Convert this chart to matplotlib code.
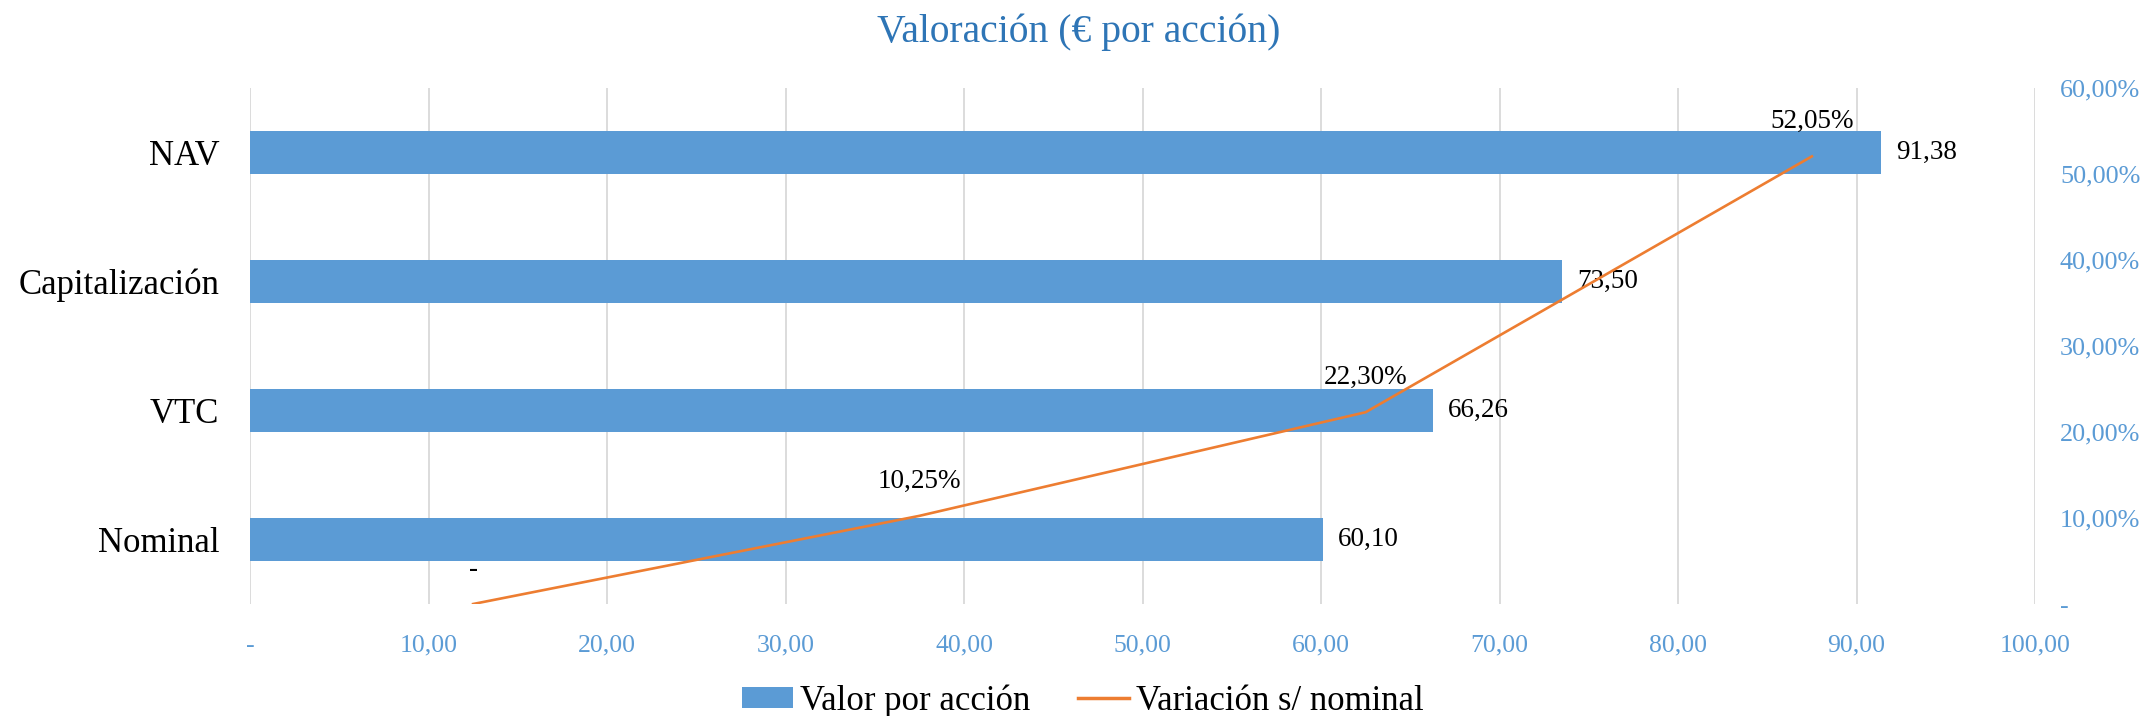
import matplotlib
matplotlib.use('Agg')
import matplotlib.pyplot as plt
from matplotlib.patches import Patch
from matplotlib.lines import Line2D

# data
categories = ['Nominal', 'VTC', 'Capitalización', 'NAV']
valor_accion = [60.10, 66.26, 73.50, 91.38]
variacion = [0.0, 0.1025, 0.2230, 0.5205]
x_ticks = [0, 10, 20, 30, 40, 50, 60, 70, 80, 90, 100]
y2_ticks = [0, 0.1, 0.2, 0.3, 0.4, 0.5, 0.6]

bar_color = '#5B9BD5'
line_color = '#ED7D31'
tick_color = '#5B9BD5'
title_color = '#2E75B6'
grid_color = '#D9D9D9'

plt.rcParams['font.family'] = ['Liberation Serif', 'DejaVu Serif']


def num_es(v, dec=2):
    if v == 0:
        return '-'
    s = '{:,.{d}f}'.format(v, d=dec)
    return s.replace(',', 'X').replace('.', ',').replace('X', '.')


def pct_es(v):
    if v == 0:
        return '-'
    return num_es(v * 100) + '%'


fig = plt.figure(figsize=(21.48, 7.16), dpi=100, facecolor='w')
pos = [250 / 2148, 1 - 604 / 716, (2035 - 250) / 2148, (604 - 88) / 716]
ax = fig.add_axes(pos)

ypos = range(len(categories))
bars = ax.barh(ypos, valor_accion, height=0.33, color=bar_color, zorder=3)
ax.set_xlim(0, 100)
ax.set_ylim(-0.5, len(categories) - 0.5)
ax.set_yticks(list(ypos))
ax.set_yticklabels(categories, fontsize=25, color='black')
ax.set_xticks(x_ticks)
ax.set_xticklabels([num_es(t) for t in x_ticks], fontsize=18.5, color=tick_color)
ax.tick_params(axis='both', length=0)
ax.tick_params(axis='y', pad=22)
ax.tick_params(axis='x', pad=22)
ax.grid(axis='x', color=grid_color, linewidth=1.3, zorder=0)
for s in ax.spines.values():
    s.set_visible(False)

for b, v in zip(bars, valor_accion):
    ax.annotate(num_es(v), (b.get_width(), b.get_y() + b.get_height() / 2),
                xytext=(11, 0), textcoords='offset points',
                ha='left', va='center', fontsize=19.5, color='black', zorder=5)

# secondary axes for the line (own category axis + percent axis)
ax2 = fig.add_axes(pos, frameon=False)
ax2.patch.set_visible(False)
xi = list(range(len(categories)))
ax2.plot(xi, variacion, color=line_color, linewidth=1.9, zorder=4)
ax2.set_xlim(-0.5, len(categories) - 0.5)
ax2.set_ylim(0, 0.6)
ax2.set_xticks([])
ax2.yaxis.tick_right()
ax2.set_yticks(y2_ticks)
ax2.set_yticklabels([pct_es(t) for t in y2_ticks], fontsize=18.8, color=tick_color)
ax2.tick_params(axis='y', length=0, pad=18)
for x, v in zip(xi, variacion):
    ax2.annotate(pct_es(v), (x, v), xytext=(0, 25), textcoords='offset points',
                 ha='center', va='center', fontsize=19.5, color='black', zorder=5)

fig.text(0.502, 0.955, 'Valoración (€ por acción)', ha='center', va='center',
         fontsize=28.5, color=title_color)

handles = [Patch(facecolor=bar_color, edgecolor='none'),
           Line2D([0], [0], color=line_color, linewidth=2.5)]
fig.legend(handles, ['Valor por acción', 'Variación s/ nominal'],
           loc='center', bbox_to_anchor=(1083 / 2148, 1 - 701 / 716), ncol=2,
           frameon=False, fontsize=25, handlelength=1.47, handleheight=0.55,
           handletextpad=0.2, columnspacing=1.38)

fig.savefig('out.png', dpi=100, facecolor='w')
